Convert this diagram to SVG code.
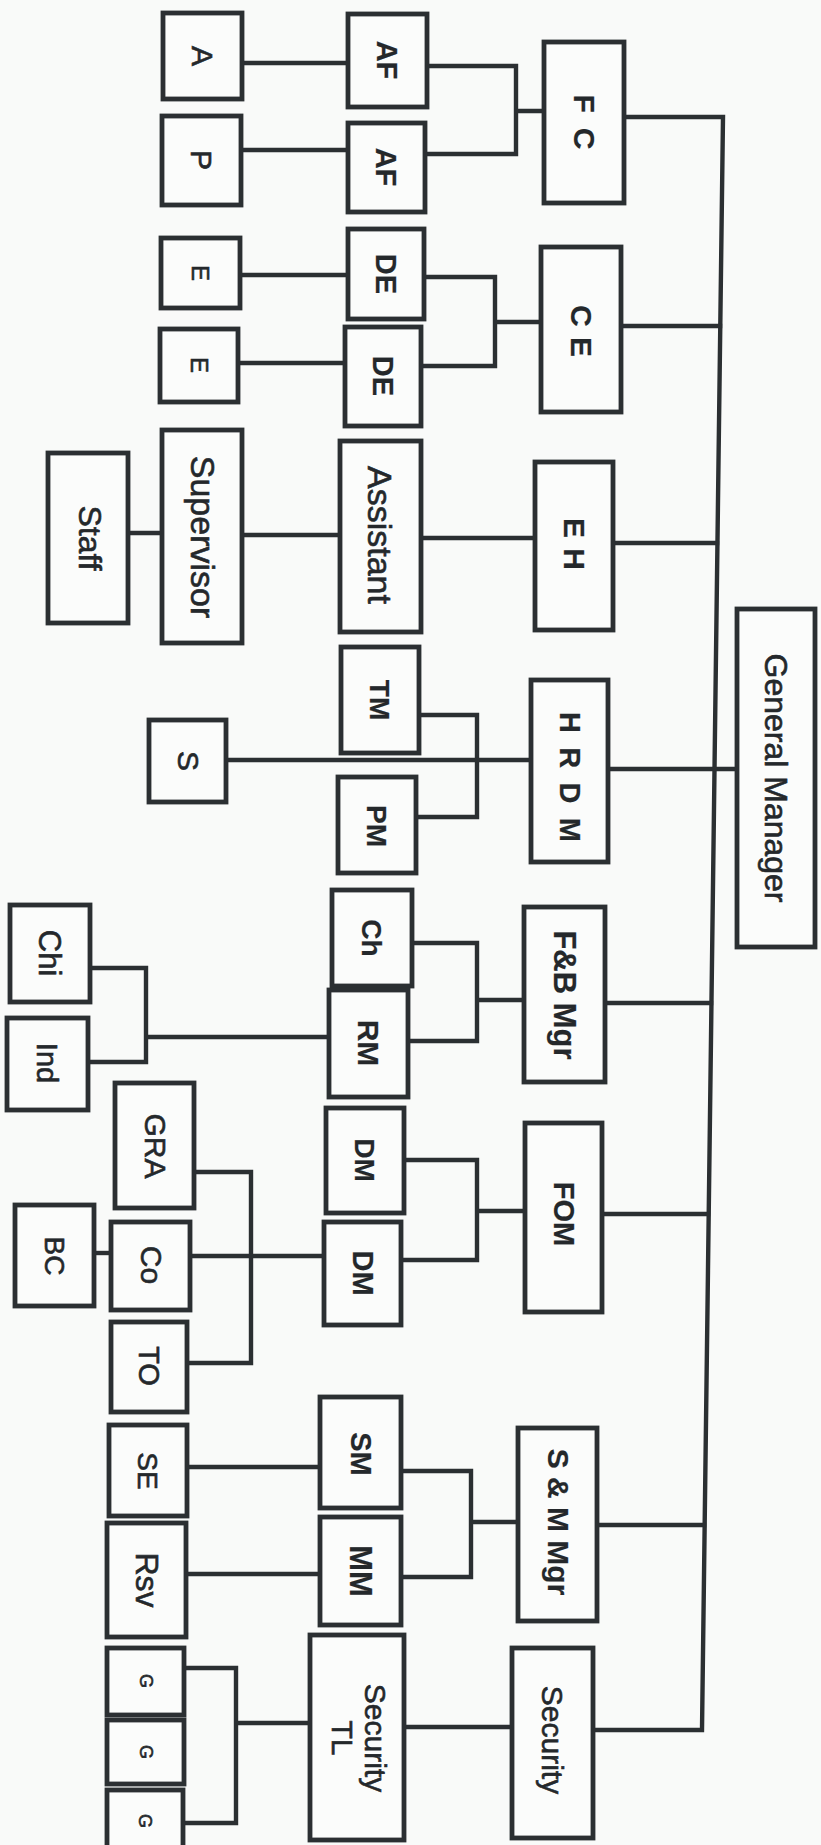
<svg xmlns="http://www.w3.org/2000/svg" width="821" height="1845" viewBox="0 0 821 1845">
<style>
.bg{fill:#f9faf9}
.box{fill:#fbfcfb;stroke:#2b2f32;stroke-width:4.8}
.ln{fill:none;stroke:#2b2f32;stroke-width:4.4;stroke-linejoin:miter;stroke-linecap:square}
text{font-family:"Liberation Sans",Arial,sans-serif;fill:#24282b;text-anchor:middle;stroke:#24282b;stroke-width:0.6}
.b{font-weight:bold;stroke-width:0.2}
</style>
<rect class="bg" x="0" y="0" width="821" height="1845"/>
<g id="connectors">
<path class="ln" d="M624,117 H723 L702,1730 H593"/>
<path class="ln" d="M242,63 H348"/>
<path class="ln" d="M241,150 H348"/>
<path class="ln" d="M427,66 H516 V154 H425 M516,111 H544"/>
<path class="ln" d="M240,275 H348"/>
<path class="ln" d="M238,363 H345"/>
<path class="ln" d="M424,277 H495 V366 H421 M495,322 H541"/>
<path class="ln" d="M621,326 H720"/>
<path class="ln" d="M128,533 H162"/>
<path class="ln" d="M242,535 H340"/>
<path class="ln" d="M421,538 H535"/>
<path class="ln" d="M613,543 H717"/>
<path class="ln" d="M419,715 H477 V817 H416"/>
<path class="ln" d="M226,760 H531"/>
<path class="ln" d="M608,769 H737"/>
<path class="ln" d="M90,968 H146 V1062 H88 M146,1037 H329"/>
<path class="ln" d="M412,943 H477 V1041 H408 M477,1000 H524"/>
<path class="ln" d="M605,1003 H711"/>
<path class="ln" d="M194,1172 H251 V1363 H187"/>
<path class="ln" d="M94,1253 H111"/>
<path class="ln" d="M190,1256 H324"/>
<path class="ln" d="M404,1160 H477 V1260 H401 M477,1211 H525"/>
<path class="ln" d="M602,1214 H708"/>
<path class="ln" d="M187,1467 H320"/>
<path class="ln" d="M186,1574 H320"/>
<path class="ln" d="M401,1471 H471 V1577 H401 M471,1522 H518"/>
<path class="ln" d="M597,1525 H704"/>
<path class="ln" d="M184,1668 H236 V1823 H183 M236,1723 H310"/>
<path class="ln" d="M404,1727 H512"/>
</g>
<g id="n-gm"><rect class="box" x="737" y="609" width="78" height="338"/><text transform="translate(776,778) rotate(90)" dy="0.35em" font-size="32">General Manager</text></g>
<g id="n-fc"><rect class="box" x="544" y="42" width="80" height="161"/><text class="b" transform="translate(584,122) rotate(90)" dy="0.35em" font-size="30" textLength="55" lengthAdjust="spacing">F C</text></g>
<g id="n-af1"><rect class="box" x="348" y="14" width="79" height="93"/><text class="b" transform="translate(387,60) rotate(90)" dy="0.35em" font-size="29">AF</text></g>
<g id="n-af2"><rect class="box" x="348" y="123" width="77" height="89"/><text class="b" transform="translate(386,167) rotate(90)" dy="0.35em" font-size="29">AF</text></g>
<g id="n-a"><rect class="box" x="163" y="13" width="79" height="86"/><text transform="translate(202,56) rotate(90)" dy="0.35em" font-size="30">A</text></g>
<g id="n-p"><rect class="box" x="162" y="116" width="79" height="89"/><text transform="translate(201,160) rotate(90)" dy="0.35em" font-size="30">P</text></g>
<g id="n-ce"><rect class="box" x="541" y="247" width="80" height="165"/><text class="b" transform="translate(581,331) rotate(90)" dy="0.35em" font-size="30" textLength="52" lengthAdjust="spacing">C E</text></g>
<g id="n-de1"><rect class="box" x="348" y="229" width="76" height="90"/><text class="b" transform="translate(386,274) rotate(90)" dy="0.35em" font-size="29">DE</text></g>
<g id="n-de2"><rect class="box" x="345" y="327" width="76" height="99"/><text class="b" transform="translate(383,376) rotate(90)" dy="0.35em" font-size="29">DE</text></g>
<g id="n-e1"><rect class="box" x="161" y="238" width="79" height="70"/><text transform="translate(200,273) rotate(90)" dy="0.35em" font-size="24">E</text></g>
<g id="n-e2"><rect class="box" x="160" y="329" width="78" height="73"/><text transform="translate(199,365) rotate(90)" dy="0.35em" font-size="24">E</text></g>
<g id="n-eh"><rect class="box" x="535" y="462" width="78" height="168"/><text class="b" transform="translate(574,544) rotate(90)" dy="0.35em" font-size="30" textLength="52" lengthAdjust="spacing">E H</text></g>
<g id="n-assistant"><rect class="box" x="340" y="441" width="81" height="191"/><text transform="translate(380,535) rotate(90)" dy="0.35em" font-size="34">Assistant</text></g>
<g id="n-supervisor"><rect class="box" x="162" y="430" width="80" height="213"/><text transform="translate(203,537) rotate(90)" dy="0.35em" font-size="34">Supervisor</text></g>
<g id="n-staff"><rect class="box" x="48" y="453" width="80" height="170"/><text transform="translate(90,538) rotate(90)" dy="0.35em" font-size="32">Staff</text></g>
<g id="n-hrdm"><rect class="box" x="531" y="680" width="77" height="182"/><text class="b" transform="translate(570,777) rotate(90)" dy="0.35em" font-size="29" textLength="130" lengthAdjust="spacing">H R D M</text></g>
<g id="n-tm"><rect class="box" x="341" y="647" width="78" height="106"/><text class="b" transform="translate(380,700) rotate(90)" dy="0.35em" font-size="28">TM</text></g>
<g id="n-pm"><rect class="box" x="338" y="777" width="78" height="96"/><text class="b" transform="translate(377,826) rotate(90)" dy="0.35em" font-size="28">PM</text></g>
<g id="n-s"><rect class="box" x="149" y="720" width="77" height="82"/><text transform="translate(188,761) rotate(90)" dy="0.35em" font-size="30">S</text></g>
<g id="n-fb"><rect class="box" x="524" y="907" width="81" height="175"/><text class="b" transform="translate(565,995) rotate(90)" dy="0.35em" font-size="31">F&amp;B Mgr</text></g>
<g id="n-ch"><rect class="box" x="332" y="890" width="80" height="96"/><text class="b" transform="translate(372,938) rotate(90)" dy="0.35em" font-size="28">Ch</text></g>
<g id="n-rm"><rect class="box" x="329" y="990" width="79" height="107"/><text class="b" transform="translate(368,1043) rotate(90)" dy="0.35em" font-size="30">RM</text></g>
<g id="n-chi"><rect class="box" x="10" y="905" width="80" height="97"/><text transform="translate(50,953) rotate(90)" dy="0.35em" font-size="31">Chi</text></g>
<g id="n-ind"><rect class="box" x="7" y="1018" width="81" height="92"/><text transform="translate(47,1063) rotate(90)" dy="0.35em" font-size="29">Ind</text></g>
<g id="n-fom"><rect class="box" x="525" y="1123" width="77" height="189"/><text class="b" transform="translate(564,1214) rotate(90)" dy="0.35em" font-size="29">FOM</text></g>
<g id="n-dm1"><rect class="box" x="326" y="1108" width="78" height="105"/><text class="b" transform="translate(365,1160) rotate(90)" dy="0.35em" font-size="28">DM</text></g>
<g id="n-dm2"><rect class="box" x="324" y="1222" width="77" height="103"/><text class="b" transform="translate(363,1273) rotate(90)" dy="0.35em" font-size="29">DM</text></g>
<g id="n-gra"><rect class="box" x="115" y="1083" width="79" height="125"/><text transform="translate(155,1146) rotate(90)" dy="0.35em" font-size="30">GRA</text></g>
<g id="n-co"><rect class="box" x="111" y="1222" width="79" height="88"/><text transform="translate(151,1265) rotate(90)" dy="0.35em" font-size="30">Co</text></g>
<g id="n-bc"><rect class="box" x="15" y="1205" width="79" height="101"/><text transform="translate(55,1256) rotate(90)" dy="0.35em" font-size="28">BC</text></g>
<g id="n-to"><rect class="box" x="111" y="1322" width="76" height="90"/><text transform="translate(149,1366) rotate(90)" dy="0.35em" font-size="29">TO</text></g>
<g id="n-sm-mgr"><rect class="box" x="518" y="1428" width="79" height="193"/><text class="b" transform="translate(558,1522) rotate(90)" dy="0.35em" font-size="30">S &amp; M Mgr</text></g>
<g id="n-sm"><rect class="box" x="320" y="1397" width="81" height="111"/><text class="b" transform="translate(361,1454) rotate(90)" dy="0.35em" font-size="29">SM</text></g>
<g id="n-mm"><rect class="box" x="320" y="1517" width="81" height="108"/><text class="b" transform="translate(361,1571) rotate(90)" dy="0.35em" font-size="31">MM</text></g>
<g id="n-se"><rect class="box" x="109" y="1425" width="78" height="91"/><text transform="translate(148,1471) rotate(90)" dy="0.35em" font-size="28">SE</text></g>
<g id="n-rsv"><rect class="box" x="107" y="1523" width="79" height="114"/><text transform="translate(147,1580) rotate(90)" dy="0.35em" font-size="32">Rsv</text></g>
<g id="n-security"><rect class="box" x="512" y="1648" width="81" height="190"/><text transform="translate(552,1740) rotate(90)" dy="0.35em" font-size="30">Security</text></g>
<g id="n-security-tl"><rect class="box" x="310" y="1635" width="94" height="205"/><text transform="translate(357,1738) rotate(90)" font-size="30"><tspan x="0" dy="-0.25em">Security</tspan><tspan x="0" dy="1.1em">TL</tspan></text></g>
<g id="n-g1"><rect class="box" x="107" y="1648" width="77" height="67"/><text transform="translate(146,1681) rotate(90)" dy="0.35em" font-size="18">G</text></g>
<g id="n-g2"><rect class="box" x="107" y="1720" width="77" height="64"/><text transform="translate(146,1752) rotate(90)" dy="0.35em" font-size="18">G</text></g>
<g id="n-g3"><rect class="box" x="107" y="1790" width="76" height="62"/><text transform="translate(145,1821) rotate(90)" dy="0.35em" font-size="18">G</text></g>
</svg>
